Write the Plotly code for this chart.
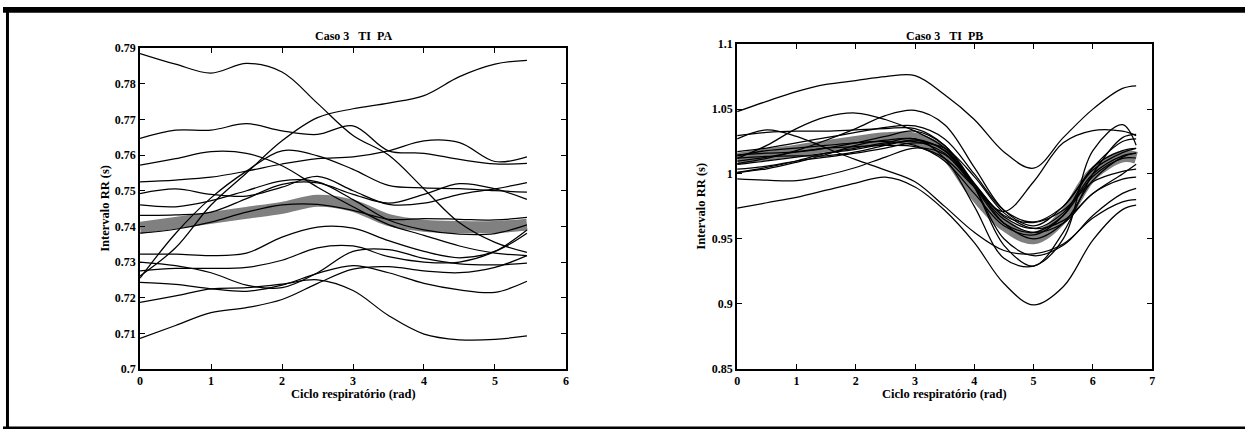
import plotly.graph_objects as go

# ---------------- data: panel PA ----------------
x_pa = [0, 0.5, 1, 1.5, 2, 2.5, 3, 3.5, 4, 4.5, 5, 5.45]
pa_mean = [0.7396, 0.7410, 0.7424, 0.7438, 0.7452, 0.7472, 0.7458, 0.7418, 0.7402, 0.7398, 0.7398, 0.7405]
pa_curves = [
    [0.7885, 0.7855, 0.7830, 0.7857, 0.7833, 0.7745, 0.7655, 0.7600, 0.7505, 0.7410, 0.7355, 0.7327],
    [0.7647, 0.7670, 0.7670, 0.7688, 0.7668, 0.7658, 0.7682, 0.7612, 0.7605, 0.7588, 0.7575, 0.7577],
    [0.7261, 0.7340, 0.7460, 0.7550, 0.7640, 0.7705, 0.7730, 0.7746, 0.7767, 0.7820, 0.7855, 0.7866],
    [0.7525, 0.7530, 0.7538, 0.7555, 0.7575, 0.7590, 0.7595, 0.7612, 0.7640, 0.7635, 0.7582, 0.7595],
    [0.7572, 0.7590, 0.7610, 0.7605, 0.7570, 0.7510, 0.7455, 0.7405, 0.7375, 0.7345, 0.7325, 0.7318],
    [0.7492, 0.7505, 0.7490, 0.7485, 0.7510, 0.7540, 0.7500, 0.7462, 0.7465, 0.7490, 0.7505, 0.7523],
    [0.7255, 0.7380, 0.7480, 0.7555, 0.7612, 0.7598, 0.7560, 0.7515, 0.7508, 0.7506, 0.7500, 0.7496],
    [0.7460, 0.7455, 0.7472, 0.7500, 0.7528, 0.7525, 0.7475, 0.7418, 0.7390, 0.7378, 0.7380, 0.7404],
    [0.7431, 0.7432, 0.7440, 0.7478, 0.7518, 0.7522, 0.7490, 0.7465, 0.7490, 0.7520, 0.7505, 0.7476],
    [0.7381, 0.7392, 0.7412, 0.7440, 0.7460, 0.7462, 0.7445, 0.7420, 0.7422, 0.7420, 0.7418, 0.7425],
    [0.7322, 0.7322, 0.7318, 0.7325, 0.7370, 0.7398, 0.7395, 0.7360, 0.7330, 0.7312, 0.7330, 0.7381],
    [0.7300, 0.7290, 0.7270, 0.7235, 0.7228, 0.7270, 0.7330, 0.7335, 0.7310, 0.7295, 0.7292, 0.7297],
    [0.7275, 0.7282, 0.7282, 0.7285, 0.7305, 0.7340, 0.7345, 0.7315, 0.7300, 0.7300, 0.7330, 0.7390],
    [0.7243, 0.7237, 0.7225, 0.7218, 0.7235, 0.7268, 0.7290, 0.7270, 0.7240, 0.7222, 0.7215, 0.7246],
    [0.7187, 0.7205, 0.7225, 0.7228, 0.7238, 0.7250, 0.7220, 0.7150, 0.7098, 0.7082, 0.7083, 0.7093],
    [0.7086, 0.7122, 0.7158, 0.7172, 0.7195, 0.7240, 0.7280, 0.7287, 0.7275, 0.7270, 0.7285, 0.7318],
]

# ---------------- data: panel PB ----------------
x_pb = [0, 0.5, 1, 1.5, 2, 2.5, 3, 3.5, 4, 4.5, 5, 5.5, 6, 6.5, 6.73]
pb_mean = [1.0117, 1.0150, 1.0180, 1.0215, 1.0246, 1.0275, 1.0271, 1.0160, 0.9850, 0.9610, 0.9505, 0.9670, 1.0000, 1.0135, 1.0125]
pb_curves = [
    [1.0480, 1.0560, 1.0635, 1.0690, 1.0720, 1.0750, 1.0758, 1.0610, 1.0420, 1.0170, 1.0045, 1.0280, 1.0500, 1.0660, 1.0680],
    [0.9736, 0.9778, 0.9820, 0.9875, 0.9930, 0.9975, 0.9900, 0.9720, 0.9470, 0.9155, 0.8990, 0.9130, 0.9490, 0.9725, 0.9759],
    [1.0271, 1.0340, 1.0290, 1.0200, 1.0110, 1.0030, 0.9940, 0.9750, 0.9550, 0.9410, 0.9384, 0.9460, 0.9660, 0.9785, 0.9803],
    [0.9963, 0.9952, 0.9948, 0.9990, 1.0050, 1.0130, 1.0200, 1.0150, 0.9900, 0.9650, 0.9550, 0.9620, 0.9850, 0.9960, 0.9975],
    [1.0012, 1.0050, 1.0100, 1.0160, 1.0200, 1.0240, 1.0270, 1.0120, 0.9750, 0.9350, 0.9290, 0.9500, 1.0180, 1.0380, 1.0222],
    [1.0296, 1.0320, 1.0330, 1.0330, 1.0340, 1.0350, 1.0350, 1.0220, 0.9900, 0.9450, 0.9290, 0.9550, 1.0000, 1.0280, 1.0305],
    [1.0080, 1.0120, 1.0180, 1.0260, 1.0350, 1.0450, 1.0490, 1.0380, 1.0050, 0.9720, 0.9600, 0.9750, 1.0050, 1.0250, 1.0271],
    [1.0120, 1.0220, 1.0350, 1.0440, 1.0470, 1.0420, 1.0330, 1.0200, 0.9900, 0.9500, 0.9370, 0.9450, 0.9680, 0.9850, 0.9889],
    [1.0172, 1.0200, 1.0240, 1.0280, 1.0320, 1.0360, 1.0370, 1.0270, 1.0000, 0.9720, 0.9630, 0.9750, 1.0030, 1.0165, 1.0197],
    [1.0148, 1.0160, 1.0170, 1.0200, 1.0240, 1.0290, 1.0330, 1.0220, 0.9930, 0.9670, 0.9580, 0.9700, 1.0000, 1.0140, 1.0160],
    [1.0123, 1.0135, 1.0140, 1.0140, 1.0170, 1.0220, 1.0260, 1.0180, 0.9900, 0.9620, 0.9550, 0.9680, 0.9980, 1.0120, 1.0123],
    [1.0099, 1.0130, 1.0170, 1.0200, 1.0210, 1.0220, 1.0210, 1.0120, 0.9900, 0.9710, 0.9940, 1.0240, 1.0335, 1.0330, 1.0296],
    [1.0074, 1.0100, 1.0130, 1.0160, 1.0190, 1.0230, 1.0250, 1.0160, 0.9920, 0.9680, 0.9625, 0.9720, 0.9940, 1.0020, 1.0037],
    [1.0037, 1.0060, 1.0100, 1.0130, 1.0160, 1.0200, 1.0240, 1.0200, 0.9980, 0.9700, 0.9580, 0.9640, 0.9850, 1.0000, 1.0074],
    [1.0010, 1.0040, 1.0090, 1.0150, 1.0220, 1.0260, 1.0270, 1.0180, 0.9920, 0.9620, 0.9500, 0.9620, 0.9950, 1.0130, 1.0160],
    [1.0140, 1.0180, 1.0200, 1.0220, 1.0240, 1.0250, 1.0220, 1.0100, 0.9850, 0.9600, 0.9530, 0.9680, 1.0050, 1.0180, 1.0197],
]

pa_yticks = [0.70, 0.71, 0.72, 0.73, 0.74, 0.75, 0.76, 0.77, 0.78, 0.79]
pa_ytext = ["0.7", "0.71", "0.72", "0.73", "0.74", "0.75", "0.76", "0.77", "0.78", "0.79"]
pb_yticks = [0.85, 0.90, 0.95, 1.00, 1.05, 1.10]
pb_ytext = ["0.85", "0.9", "0.95", "1", "1.05", "1.1"]

W, H = 1248, 436
FONT = "Liberation Serif, Times New Roman, serif"

fig = go.Figure()


def add_panel(xs, mean, curves, xa, ya):
    # thick grey mean curve underneath the individual cycles
    fig.add_trace(go.Scatter(x=xs, y=mean, mode="lines", xaxis=xa, yaxis=ya,
                             line=dict(color="rgb(128,128,128)", width=12, shape="spline"),
                             hoverinfo="skip", showlegend=False))
    for c in curves:
        fig.add_trace(go.Scatter(x=xs, y=c, mode="lines", xaxis=xa, yaxis=ya,
                                 line=dict(color="black", width=1.25, shape="spline"),
                                 hoverinfo="skip", showlegend=False))


add_panel(x_pa, pa_mean, pa_curves, "x", "y")
add_panel(x_pb, pb_mean, pb_curves, "x2", "y2")


def px_x(p):
    return p / W


def px_y(p):
    return 1 - p / H


axis_common = dict(showgrid=False, zeroline=False, showline=True, linecolor="black",
                   linewidth=2, mirror="ticks", ticks="inside", ticklen=5,
                   tickcolor="black", tickwidth=1.2,
                   tickfont=dict(family=FONT, size=12, color="black", weight="bold"))

# plot areas in pixels: left, right, top, bottom
pa_box = (137.7, 565.7, 42.5, 374.0)
pb_box = (737.7, 1154.7, 38.5, 373.5)

fig.update_layout(
    width=W, height=H, autosize=False,
    margin=dict(l=0, r=0, t=0, b=0, pad=0),
    paper_bgcolor="white", plot_bgcolor="white",
    xaxis=dict(domain=[px_x(pa_box[0]), px_x(pa_box[1])], range=[0, 6], dtick=1,
               anchor="y", **axis_common),
    yaxis=dict(domain=[px_y(pa_box[3]), px_y(pa_box[2])], range=[0.70, 0.79],
               tickvals=pa_yticks, ticktext=pa_ytext, anchor="x", **axis_common),
    xaxis2=dict(domain=[px_x(pb_box[0]), px_x(pb_box[1])], range=[0, 7], dtick=1,
                anchor="y2", **axis_common),
    yaxis2=dict(domain=[px_y(pb_box[3]), px_y(pb_box[2])], range=[0.85, 1.10],
                tickvals=pb_yticks, ticktext=pb_ytext, anchor="x2", **axis_common),
)

nb = "\u00a0"
title_font = dict(family=FONT, size=12, color="black", weight="bold")
label_font = dict(family=FONT, size=12.5, color="black", weight="bold")
annotations = []
for box, title in [(pa_box, f"Caso 3{nb*3}TI{nb*2}PA"), (pb_box, f"Caso 3{nb*3}TI{nb*2}PB")]:
    cx = (box[0] + box[1]) / 2
    annotations.append(dict(text=title, x=px_x(cx), y=px_y(30), xref="paper", yref="paper",
                            showarrow=False, xanchor="center", yanchor="middle", font=title_font))
    annotations.append(dict(text="Ciclo respiratório (rad)", x=px_x(cx), y=px_y(391),
                            xref="paper", yref="paper", showarrow=False,
                            xanchor="center", yanchor="top", font=label_font))
    cy = (box[2] + box[3]) / 2
    annotations.append(dict(text="Intervalo RR (s)", x=px_x(box[0] - 36), y=px_y(cy),
                            xref="paper", yref="paper", showarrow=False, textangle=-90,
                            xanchor="center", yanchor="middle", font=label_font))
fig.update_layout(annotations=annotations)

# page frame
frame = dict(type="rect", xref="paper", yref="paper", line=dict(width=0), fillcolor="black", layer="above")
fig.update_layout(shapes=[
    dict(frame, x0=0, x1=1, y0=px_y(6), y1=1),
    dict(frame, x0=0, x1=1, y0=0, y1=px_y(433.5)),
    dict(frame, x0=px_x(3), x1=px_x(6), y0=0, y1=1),
])

fig.write_html("out.html")
